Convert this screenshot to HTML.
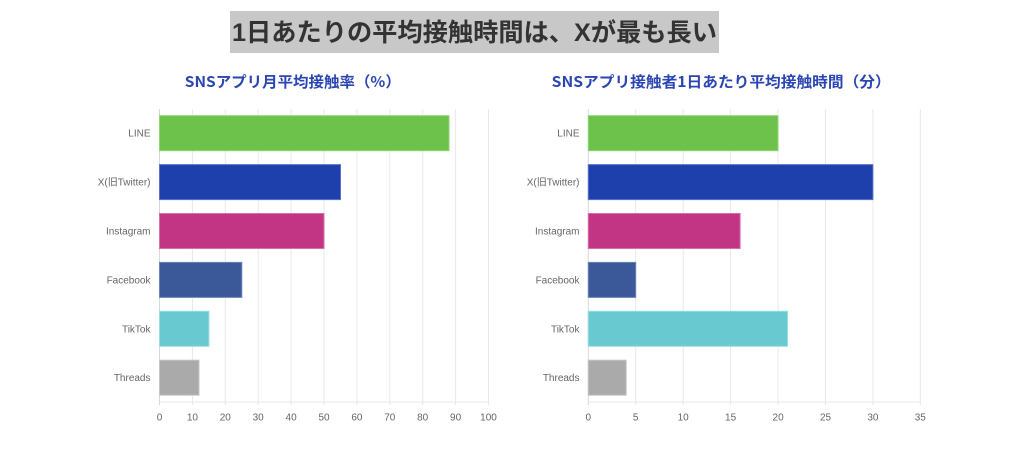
<!DOCTYPE html>
<html>
<head>
<meta charset="utf-8">
<style>
html,body{margin:0;padding:0;background:#fff;}
svg{display:block;}
</style>
</head>
<body>
<svg width="1024" height="457" viewBox="0 0 1024 457" xmlns="http://www.w3.org/2000/svg">
  <rect x="0" y="0" width="1024" height="457" fill="#ffffff"/>
  <!-- Main title -->
  <rect x="230" y="11" width="489" height="42" fill="#c8c8c8"/>
  <text x="474.5" y="41" text-anchor="middle" font-family="'Liberation Sans','Noto Sans CJK JP',sans-serif" font-weight="bold" font-size="25" fill="#333333" textLength="485" lengthAdjust="spacingAndGlyphs">1日あたりの平均接触時間は、Xが最も長い</text>

  <!-- Chart titles -->
  <text x="292.8" y="87" text-anchor="middle" font-family="'Noto Sans CJK JP',sans-serif" font-weight="bold" font-size="15" fill="#2b46b3" textLength="216" lengthAdjust="spacingAndGlyphs">SNSアプリ月平均接触率（%）</text>
  <text x="721.2" y="87" text-anchor="middle" font-family="'Noto Sans CJK JP',sans-serif" font-weight="bold" font-size="15" fill="#2b46b3" textLength="339" lengthAdjust="spacingAndGlyphs">SNSアプリ接触者1日あたり平均接触時間（分）</text>

  <!-- LEFT CHART -->
  <g stroke="#e8e8e8" stroke-width="1">
    <line x1="192.4" y1="109" x2="192.4" y2="405"/>
    <line x1="225.3" y1="109" x2="225.3" y2="405"/>
    <line x1="258.2" y1="109" x2="258.2" y2="405"/>
    <line x1="291.1" y1="109" x2="291.1" y2="405"/>
    <line x1="324" y1="109" x2="324" y2="405"/>
    <line x1="356.9" y1="109" x2="356.9" y2="405"/>
    <line x1="389.8" y1="109" x2="389.8" y2="405"/>
    <line x1="422.7" y1="109" x2="422.7" y2="405"/>
    <line x1="455.6" y1="109" x2="455.6" y2="405"/>
    <line x1="488.5" y1="109" x2="488.5" y2="405"/>
    <line x1="159" y1="402" x2="489" y2="402"/>
  </g>
  <line x1="159.5" y1="109" x2="159.5" y2="405" stroke="#d8d8d8" stroke-width="1"/>
  <g stroke-width="1">
    <rect x="159.5" y="115.7" width="289.5" height="35" fill="#6cc24a" stroke="#8fd575"/>
    <rect x="159.5" y="164.6" width="181" height="35" fill="#1e40ac" stroke="#5a73c6"/>
    <rect x="159.5" y="213.5" width="164.5" height="35" fill="#c13584" stroke="#d770a8"/>
    <rect x="159.5" y="262.4" width="82.3" height="35" fill="#3b5998" stroke="#6a84b8"/>
    <rect x="159.5" y="311.3" width="49.4" height="35" fill="#69c9d0" stroke="#96dce0"/>
    <rect x="159.5" y="360.2" width="39.5" height="35" fill="#aaaaaa" stroke="#c4c4c4"/>
  </g>
  <g font-family="'Liberation Sans','Noto Sans CJK JP',sans-serif" font-size="10" fill="#666666" text-anchor="end">
    <text x="150.5" y="136.7">LINE</text>
    <text x="150.5" y="185.6">X(旧Twitter)</text>
    <text x="150.5" y="234.5">Instagram</text>
    <text x="150.5" y="283.4">Facebook</text>
    <text x="150.5" y="332.3">TikTok</text>
    <text x="150.5" y="381.2">Threads</text>
  </g>
  <g font-family="'Liberation Sans',sans-serif" font-size="10" fill="#666666" text-anchor="middle">
    <text x="159.5" y="420.5">0</text>
    <text x="192.4" y="420.5">10</text>
    <text x="225.3" y="420.5">20</text>
    <text x="258.2" y="420.5">30</text>
    <text x="291.1" y="420.5">40</text>
    <text x="324" y="420.5">50</text>
    <text x="356.9" y="420.5">60</text>
    <text x="389.8" y="420.5">70</text>
    <text x="422.7" y="420.5">80</text>
    <text x="455.6" y="420.5">90</text>
    <text x="488.5" y="420.5">100</text>
  </g>

  <!-- RIGHT CHART -->
  <g stroke="#e8e8e8" stroke-width="1">
    <line x1="635.7" y1="109" x2="635.7" y2="405"/>
    <line x1="683.2" y1="109" x2="683.2" y2="405"/>
    <line x1="730.6" y1="109" x2="730.6" y2="405"/>
    <line x1="778.1" y1="109" x2="778.1" y2="405"/>
    <line x1="825.5" y1="109" x2="825.5" y2="405"/>
    <line x1="872.9" y1="109" x2="872.9" y2="405"/>
    <line x1="920.3" y1="109" x2="920.3" y2="405"/>
    <line x1="588" y1="402" x2="921" y2="402"/>
  </g>
  <line x1="588.3" y1="109" x2="588.3" y2="405" stroke="#d8d8d8" stroke-width="1"/>
  <g stroke-width="1">
    <rect x="588.3" y="115.7" width="189.7" height="35" fill="#6cc24a" stroke="#8fd575"/>
    <rect x="588.3" y="164.6" width="284.6" height="35" fill="#1e40ac" stroke="#5a73c6"/>
    <rect x="588.3" y="213.5" width="151.8" height="35" fill="#c13584" stroke="#d770a8"/>
    <rect x="588.3" y="262.4" width="47.4" height="35" fill="#3b5998" stroke="#6a84b8"/>
    <rect x="588.3" y="311.3" width="199.2" height="35" fill="#69c9d0" stroke="#96dce0"/>
    <rect x="588.3" y="360.2" width="37.9" height="35" fill="#aaaaaa" stroke="#c4c4c4"/>
  </g>
  <g font-family="'Liberation Sans','Noto Sans CJK JP',sans-serif" font-size="10" fill="#666666" text-anchor="end">
    <text x="579.5" y="136.7">LINE</text>
    <text x="579.5" y="185.6">X(旧Twitter)</text>
    <text x="579.5" y="234.5">Instagram</text>
    <text x="579.5" y="283.4">Facebook</text>
    <text x="579.5" y="332.3">TikTok</text>
    <text x="579.5" y="381.2">Threads</text>
  </g>
  <g font-family="'Liberation Sans',sans-serif" font-size="10" fill="#666666" text-anchor="middle">
    <text x="588.3" y="420.5">0</text>
    <text x="635.7" y="420.5">5</text>
    <text x="683.2" y="420.5">10</text>
    <text x="730.6" y="420.5">15</text>
    <text x="778.1" y="420.5">20</text>
    <text x="825.5" y="420.5">25</text>
    <text x="872.9" y="420.5">30</text>
    <text x="920.3" y="420.5">35</text>
  </g>
</svg>
</body>
</html>
